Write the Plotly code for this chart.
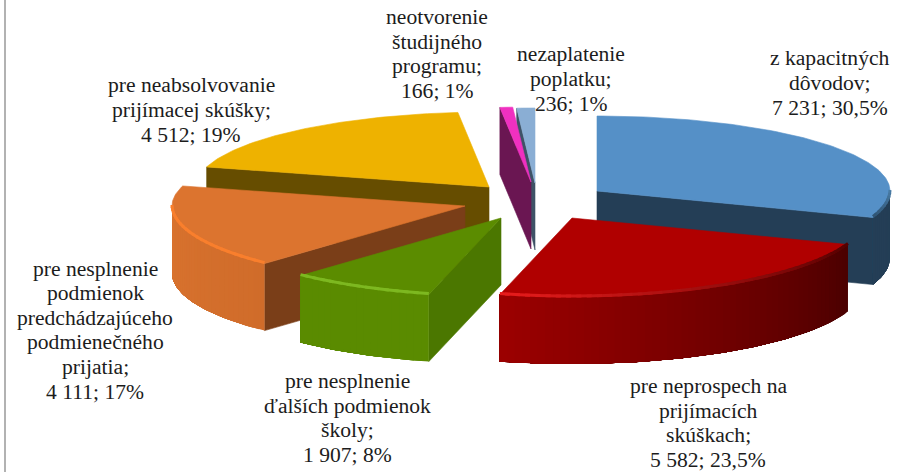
import math
import plotly.graph_objects as go

# ---- data ----
categories = [
    ["z kapacitných", "dôvodov;"],
    ["pre neprospech na", "prijímacích", "skúškach;"],
    ["pre nesplnenie", "ďalších podmienok", "školy;"],
    ["pre nesplnenie", "podmienok", "predchádzajúceho", "podmienečného", "prijatia;"],
    ["pre neabsolvovanie", "prijímacej skúšky;"],
    ["neotvorenie", "študijného", "programu;"],
    ["nezaplatenie", "poplatku;"],
]
values = [7231, 5582, 1907, 4111, 4512, 166, 236]
percent_labels = ["30,5%", "23,5%", "8%", "17%", "19%", "1%", "1%"]

# ---- styling / geometry of the tilted, exploded pie ----
RX, RY_BACK, RY_FRONT, DEPTH = 293, 75, 79, 67
CENTER = (530, 205)
explode = [(67, -14), (42, 13), (-29, 13), (-65, 1), (-41, -18), (1, -23), (5, -22)]
top_colors = ["#5590c7", "#b00000", "#5b8c00", "#dc742f", "#eeb200", "#f030c0", "#8aaed4"]
face_colors = ["#243e56", None, "#4b7700", "#7a3e18", "#664d00", "#6a1652", "#3e5266"]
wall_colors = [("#243e56", "#243e56"), ("#9c0000", "#4a0000"), ("#5a8b00", "#5a8b00"),
               ("#d9732f", "#d06c2a"), None, None, None]
rim_colors = [("#2f5473", "#4a7da8"), ("#e81c1c", "#520000"), ("#7db820", "#7db820"),
              ("#f97f2d", "#f97f2d"), None, None, None]
label_pos = [(830, 83), (708, 423), (347, 418), (95, 330), (191, 110), (437, 54), (571, 79)]
draw_order = [0, 6, 5, 4, 3, 2, 1]
FONT = dict(family="Liberation Serif", size=21.6, color="#1c1c1c")
LINE_STEP = 24.6


def hex_mix(a, b, t):
    ca = [int(a[i:i + 2], 16) for i in (1, 3, 5)]
    cb = [int(b[i:i + 2], 16) for i in (1, 3, 5)]
    return "#" + "".join(f"{round(x + (y - x) * t):02x}" for x, y in zip(ca, cb))


def point(c, theta, h=0):
    r = math.radians(theta)
    cos_t = math.cos(r)
    ry = RY_BACK if cos_t > 0 else RY_FRONT
    return c[0] + RX * math.sin(r), c[1] - ry * cos_t + h


def arc(c, a, b, h=0, step=1.0):
    n = max(2, int(abs(b - a) / step) + 1)
    return [point(c, a + (b - a) * i / (n - 1), h) for i in range(n)]


def poly(fig, pts, color, edge=0.6):
    fig.add_trace(go.Scatter(
        x=[p[0] for p in pts] + [pts[0][0]], y=[p[1] for p in pts] + [pts[0][1]],
        mode="lines", fill="toself", fillcolor=color,
        line=dict(color=color, width=edge), hoverinfo="skip", showlegend=False))


fig = go.Figure()
total = sum(values)
bounds = [0]
for v in values:
    bounds.append(bounds[-1] + v / total * 360)

for i in draw_order:
    a, b = bounds[i], bounds[i + 1]
    c = (CENTER[0] + explode[i][0], CENTER[1] + explode[i][1])
    # cut face that turns toward the viewer
    if face_colors[i]:
        edge = b if i == 0 else a
        p = point(c, edge)
        poly(fig, [c, p, (p[0], p[1] + DEPTH), (c[0], c[1] + DEPTH)], face_colors[i])
    # outer wall: overlapping bands so no seams show
    lo, hi = max(a, 90), min(b, 270)
    if wall_colors[i] and hi > lo:
        n = max(2, int((hi - lo) / 1.5))
        for k in range(n):
            t0 = lo + (hi - lo) * k / n
            col = hex_mix(*wall_colors[i], 1 - (k + 0.5) / n)
            poly(fig, arc(c, t0, hi) + arc(c, hi, t0, DEPTH), col, edge=0)
    # top face
    poly(fig, [c] + arc(c, a, b), top_colors[i])
    # bevel along the front rim
    if rim_colors[i] and hi > lo:
        n = max(2, int((hi - lo) / 2))
        for k in range(n):
            t0 = lo + (hi - lo) * k / n
            t1 = min(hi, lo + (hi - lo) * (k + 1) / n + 1)
            col = hex_mix(*rim_colors[i], 1 - (k + 0.5) / n)
            pts = arc(c, t0, t1, -1)
            fig.add_trace(go.Scatter(x=[q[0] for q in pts], y=[q[1] for q in pts], mode="lines",
                                     line=dict(color=col, width=3), hoverinfo="skip", showlegend=False))

annotations = []
for name, v, pct, pos in zip(categories, values, percent_labels, label_pos):
    lines = name + [f"{format(v, ',').replace(',', ' ')}; {pct}"]
    top = pos[1] - LINE_STEP * (len(lines) - 1) / 2
    for j, line in enumerate(lines):
        annotations.append(dict(x=pos[0], y=top + j * LINE_STEP, xref="x", yref="y", text=line,
                                showarrow=False, xanchor="center", yanchor="middle", font=FONT))

fig.update_layout(
    width=905, height=472, margin=dict(l=0, r=0, t=0, b=0),
    paper_bgcolor="white", plot_bgcolor="white", showlegend=False,
    xaxis=dict(range=[0, 905], visible=False, fixedrange=True),
    yaxis=dict(range=[472, 0], visible=False, fixedrange=True),
    annotations=annotations,
    shapes=[dict(type="line", xref="x", yref="y", x0=5, x1=5, y0=0, y1=472,
                 line=dict(color="#999999", width=1.5))],
)
fig.write_html("out.html", config=dict(displayModeBar=False),
               post_script="document.body.style.margin='0';document.body.style.overflow='hidden';")
